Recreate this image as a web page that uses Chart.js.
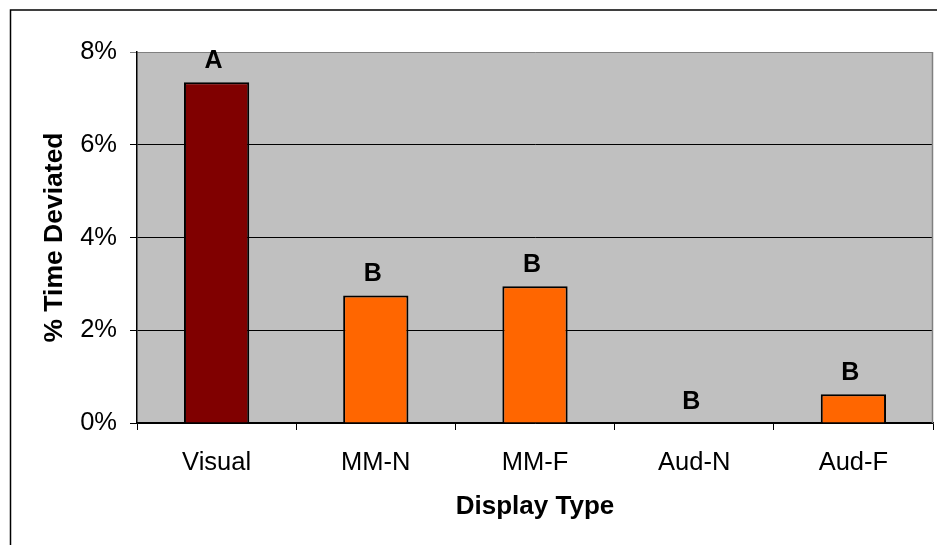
<!DOCTYPE html>
<html>
<head>
<meta charset="utf-8">
<script src="https://cdn.jsdelivr.net/npm/chart.js@4"></script>
<style>
  html, body { margin: 0; padding: 0; background: #ffffff; }
  #wrap { width: 937px; height: 545px; position: relative; }
</style>
</head>
<body>
<div id="wrap"><canvas id="chart"></canvas></div>
<script>
// Display types and the share of time spent deviated (%)
const categories = ['Visual', 'MM-N', 'MM-F', 'Aud-N', 'Aud-F'];
const timeDeviated = [7.35, 2.75, 2.95, 0, 0.62];
const groupLetters = ['A', 'B', 'B', 'B', 'B'];
const barColors = ['#800000', '#FF6600', '#FF6600', '#FF6600', '#FF6600'];
const yTicks = [0, 2, 4, 6, 8];

const FONT = '"Liberation Sans", Arial, sans-serif';

// Grey plot background, outer frame and plot border
const framePlugin = {
  id: 'frame',
  beforeDraw(chart) {
    const { ctx, chartArea: a } = chart;
    ctx.save();
    ctx.fillStyle = '#ffffff';
    ctx.fillRect(0, 0, chart.width, chart.height);
    ctx.fillStyle = '#C0C0C0';
    ctx.fillRect(a.left, a.top, a.right - a.left, a.bottom - a.top);
    ctx.strokeStyle = '#000000';
    ctx.lineWidth = 1.5;
    ctx.beginPath();
    ctx.moveTo(10.5, chart.height + 5);
    ctx.lineTo(10.5, 10);
    ctx.lineTo(chart.width + 5, 10);
    ctx.stroke();
    ctx.restore();
  },
  afterDatasetsDraw(chart) {
    const { ctx, chartArea: a } = chart;
    ctx.save();
    ctx.strokeStyle = '#808080';
    ctx.lineWidth = 1.5;
    ctx.beginPath();
    ctx.moveTo(a.right - 0.5, a.top);
    ctx.lineTo(a.right - 0.5, a.bottom);
    ctx.stroke();
    ctx.restore();
  }
};

// Significance group letters above each bar
const letterPlugin = {
  id: 'letters',
  afterDatasetsDraw(chart) {
    const { ctx } = chart;
    const meta = chart.getDatasetMeta(0);
    const y = chart.scales.y;
    ctx.save();
    ctx.font = 'bold 25px ' + FONT;
    ctx.fillStyle = '#000000';
    ctx.textAlign = 'center';
    ctx.textBaseline = 'middle';
    meta.data.forEach((bar, i) => {
      const top = y.getPixelForValue(timeDeviated[i]);
      ctx.fillText(groupLetters[i], bar.x - 3, top - 21);
    });
    ctx.restore();
  }
};

new Chart(document.getElementById('chart'), {
  type: 'bar',
  data: {
    labels: categories,
    datasets: [{
      data: timeDeviated,
      backgroundColor: barColors,
      borderColor: '#000000',
      borderWidth: 2,
      barPercentage: 0.41,
      categoryPercentage: 1.0
    }]
  },
  options: {
    responsive: true,
    maintainAspectRatio: false,
    animation: false,
    layout: { padding: { top: 52, right: 4, left: 0, bottom: 0 } },
    plugins: {
      legend: { display: false },
      tooltip: { enabled: false }
    },
    scales: {
      x: {
        afterFit(scale) { scale.height = 122; },
        grid: {
          display: true,
          drawOnChartArea: false,
          drawTicks: true,
          tickLength: 7,
          color: '#000000',
          lineWidth: 1,
          offset: true
        },
        border: { display: true, color: '#000000', width: 1.5 },
        ticks: {
          color: '#000000',
          padding: 18,
          font: { family: FONT, size: 25.5 }
        },
        title: {
          display: true,
          text: 'Display Type',
          color: '#000000',
          font: { family: FONT, size: 26, weight: 'bold' },
          padding: { top: 0, bottom: 23 }
        }
      },
      y: {
        min: 0,
        max: 8,
        afterFit(scale) { scale.width = 137; },
        afterBuildTicks(scale) { scale.ticks = yTicks.map(v => ({ value: v })); },
        grid: {
          color: (c) => (c.tick && c.tick.value === 8 ? '#808080' : '#000000'),
          lineWidth: 1,
          drawTicks: true,
          tickLength: 7
        },
        border: { display: true, color: '#000000', width: 1.5 },
        ticks: {
          color: '#000000',
          padding: 13,
          font: { family: FONT, size: 25.5 },
          callback: (v) => v + '%'
        },
        title: {
          display: true,
          text: '% Time Deviated',
          color: '#000000',
          font: { family: FONT, size: 26.5, weight: 'bold' },
          padding: { top: 39, bottom: 0 }
        }
      }
    }
  },
  plugins: [framePlugin, letterPlugin]
});
</script>
</body>
</html>
